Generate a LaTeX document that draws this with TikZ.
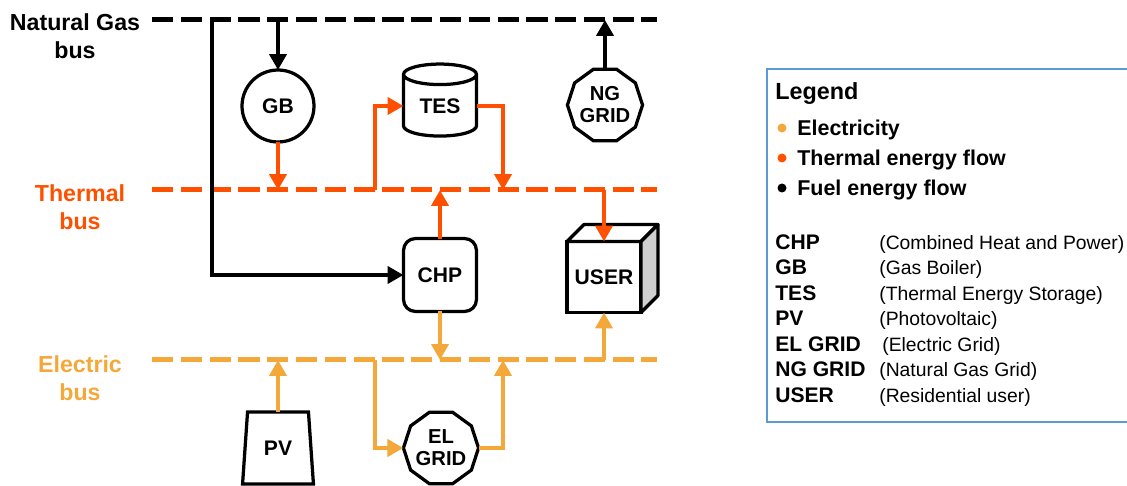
\documentclass[tikz,border=0pt]{standalone}
\usepackage{fontspec}
\setmainfont{Liberation Sans}
\usepackage{xcolor}
\usepackage{tikz}
\usetikzlibrary{arrows.meta,positioning,calc,shapes.geometric}

\definecolor{thermal}{RGB}{255,80,0}
\definecolor{elec}{RGB}{245,168,58}
\definecolor{framebl}{RGB}{91,155,213}
\definecolor{cubeside}{RGB}{208,208,208}

\tikzset{
  bus/.style={line width=0.1cm, dash pattern=on 0.426cm off 0.15cm},
  flow/.style={line width=0.08cm, -{Triangle[length=0.32cm,width=0.34cm]}},
  plant/.style={draw, line width=0.065cm, inner sep=0pt, outer sep=0pt, align=center, fill=white,
    font=\fontsize{12}{14}\selectfont\bfseries},
  gridbox/.style={plant, regular polygon, regular polygon sides=10, minimum size=1.48cm,
    font=\fontsize{11.5}{12.5}\selectfont\bfseries},
  cubeface/.style={draw, line width=0.065cm, line join=round},
  buslabel/.style={align=center, font=\fontsize{13.2}{16}\selectfont\bfseries},
  legtext/.style={anchor=base west, inner sep=0pt, font=\fontsize{12.2}{14}\selectfont\bfseries},
  abbr/.style={anchor=base west, inner sep=0pt, font=\fontsize{12}{14}\selectfont\bfseries},
  descr/.style={anchor=base west, inner sep=0pt, font=\fontsize{11}{13}\selectfont},
}

\begin{document}
\begin{tikzpicture}[x=0.02cm,y=-0.02cm]
	\useasboundingbox (0,0) rectangle (1127,486);

	% the three buses
	\coordinate (ng-w) at (152,20);  \coordinate (ng-e) at (657,20);
	\coordinate (th-w) at (152,190); \coordinate (th-e) at (657,190);
	\coordinate (el-w) at (152,360); \coordinate (el-e) at (657,360);
	\draw[bus] (ng-w) -- (ng-e);
	\draw[bus,thermal] (th-w) -- (th-e);
	\draw[bus,elec] (el-w) -- (el-e);
	\node[buslabel] (ng-lbl) at (75,36) {Natural Gas\\bus};
	\node[buslabel,text=thermal] (th-lbl) at (80,207) {Thermal\\bus};
	\node[buslabel,text=elec] (el-lbl) at (80,378) {Electric\\bus};

	% units
	\node[plant,circle,minimum size=1.44cm] (GB) at (278,106) {GB};
	\node[plant,cylinder,shape border rotate=90,aspect=0.5,minimum width=1.46cm,minimum height=1.44cm] (TES) at (440,106) {TES};
	\node[gridbox] (NG) at (605,105) {NG\\GRID};
	\node[plant,rounded corners=0.24cm,minimum width=1.46cm,minimum height=1.46cm] (CHP) at (440,275) {CHP};
	\node[plant,minimum width=1.48cm,minimum height=1.42cm] (USER) at (604,277) {USER};
	\node[plant,trapezium,trapezium angle=81,trapezium stretches=true,minimum width=1.42cm,minimum height=1.44cm] (PV) at (278,448) {PV};
	\node[gridbox] (EL) at (441,448) {EL\\GRID};

	% box look of the user
	\draw[cubeface,fill=white] (USER.north west) -- ([shift={(17,-17)}]USER.north west)
		-- ([shift={(17,-17)}]USER.north east) -- (USER.north east) -- cycle;
	\draw[cubeface,fill=cubeside] (USER.north east) -- ([shift={(17,-17)}]USER.north east)
		-- ([shift={(17,-17)}]USER.south east) -- (USER.south east) -- cycle;

	% fuel
	\coordinate (ng-tap) at (212,20);
	\draw[flow] (ng-tap) |- (CHP.west);
	\draw[flow] (GB.north |- ng-w) -- (GB.north);
	\draw[flow] (NG.north) -- (NG.north |- ng-w);

	% heat
	\coordinate (th-tes) at (375,190);
	\coordinate (th-back) at (503,190);
	\draw[flow,thermal] (GB.south) -- (GB.south |- th-w);
	\draw[flow,thermal] (th-tes) |- (TES.west);
	\draw[flow,thermal] (TES.east) -| (th-back);
	\draw[flow,thermal] (CHP.north) -- (CHP.north |- th-w);
	\draw[flow,thermal] (USER.north |- th-w) -- (USER.north);

	% electricity
	\coordinate (el-grid) at (375,360);
	\coordinate (el-back) at (503,360);
	\draw[flow,elec] (CHP.south) -- (CHP.south |- el-w);
	\draw[flow,elec] (USER.south |- el-w) -- (USER.south);
	\draw[flow,elec] (PV.north) -- (PV.north |- el-w);
	\draw[flow,elec] (el-grid) |- (EL.west);
	\draw[flow,elec] (EL.east) -| (el-back);

	% legend
	\draw[framebl,line width=0.04cm] (1140,69) -- (767,69) -- (767,422) -- (1140,422);
	\node[anchor=base west,inner sep=0pt,font=\fontsize{13.3}{15}\selectfont\bfseries] (leg-title) at (775,100) {Legend};
	\fill[elec] (782,128) circle (0.09cm);
	\fill[thermal] (782,158) circle (0.09cm);
	\fill[black] (782,188) circle (0.09cm);
	\node[legtext] (leg-el) at (797,135.5) {Electricity};
	\node[legtext] (leg-th) at (797,165.5) {Thermal energy flow};
	\node[legtext] (leg-fu) at (797,195.5) {Fuel energy flow};

	\node[abbr] (ab-chp) at (775,249.5) {CHP};
	\node[descr] at (879,249.5) {(Combined Heat and Power)};
	\node[abbr] (ab-gb) at (775,275) {GB};
	\node[descr] at (879,275) {(Gas Boiler)};
	\node[abbr] (ab-tes) at (775,300.5) {TES};
	\node[descr] at (879,300.5) {(Thermal Energy Storage)};
	\node[abbr] (ab-pv) at (775,326) {PV};
	\node[descr] at (879,326) {(Photovoltaic)};
	\node[abbr] (ab-el) at (775,351.5) {EL GRID};
	\node[descr] at (882,351.5) {(Electric Grid)};
	\node[abbr] (ab-ng) at (775,377) {NG GRID};
	\node[descr] at (879,377) {(Natural Gas Grid)};
	\node[abbr] (ab-user) at (775,402.5) {USER};
	\node[descr] at (879,402.5) {(Residential user)};
\end{tikzpicture}
\end{document}
